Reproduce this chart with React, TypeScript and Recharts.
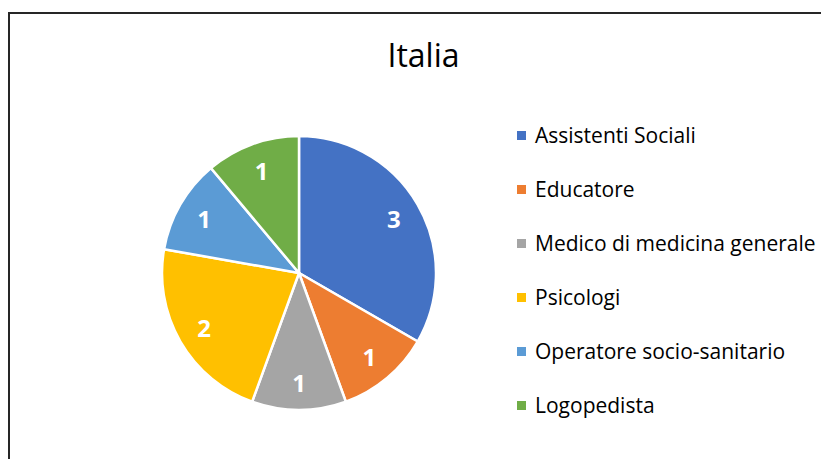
import React from "react";
import { PieChart, Pie, Cell, Legend } from "recharts";

const categories = [
  "Assistenti Sociali",
  "Educatore",
  "Medico di medicina generale",
  "Psicologi",
  "Operatore socio-sanitario",
  "Logopedista",
];
const values = [3, 1, 1, 2, 1, 1];
const colors = ["#4472C4", "#ED7D31", "#A5A5A5", "#FFC000", "#5B9BD5", "#70AD47"];
const title = "Italia";

const data = categories.map((name, i) => ({ name, value: values[i] }));

const RADIAN = Math.PI / 180;
const FONT = "'Open Sans', sans-serif";

const renderLabel = (props: any) => {
  const { cx, cy, midAngle, outerRadius, value } = props;
  const r = outerRadius * 0.8;
  const x = cx + r * Math.cos(-midAngle * RADIAN);
  const y = cy + r * Math.sin(-midAngle * RADIAN);
  return (
    <text
      x={x}
      y={y}
      fill="#fff"
      textAnchor="middle"
      dominantBaseline="central"
      fontFamily={FONT}
      fontWeight="bold"
      fontSize={24}
    >
      {value}
    </text>
  );
};

const renderLegend = () => (
  <div style={{ fontFamily: FONT, fontSize: 21, color: "#000" }}>
    {categories.map((c, i) => (
      <div key={c} style={{ height: 54, display: "flex", alignItems: "center" }}>
        <span
          style={{
            display: "inline-block",
            width: 9,
            height: 9,
            background: colors[i],
            marginRight: 9,
          }}
        />
        <span style={{ whiteSpace: "nowrap" }}>{c}</span>
      </div>
    ))}
  </div>
);

export default function App() {
  return (
    <div style={{ position: "relative", width: 821, height: 451, overflow: "hidden", background: "#fff" }}>
      <style>{"html,body{overflow:hidden;}"}</style>
      <div
        style={{
          position: "absolute",
          left: 0,
          top: 4,
          width: 900,
          height: 600,
          borderLeft: "2px solid #262626",
          borderTop: "2px solid #262626",
        }}
      />
      <div style={{ position: "absolute", left: 0, top: 0 }}>
        <PieChart width={821} height={451} margin={{ top: 0, right: 0, bottom: 0, left: 0 }}>
          <text
            x={415.5}
            y={59}
            textAnchor="middle"
            fontFamily={FONT}
            fontSize={32}
            fill="#000"
          >
            {title}
          </text>
          <Pie
            data={data}
            dataKey="value"
            nameKey="name"
            cx={291}
            cy={265}
            outerRadius={137}
            startAngle={90}
            endAngle={-270}
            stroke="#fff"
            strokeWidth={2.5}
            label={renderLabel}
            labelLine={false}
            isAnimationActive={false}
          >
            {data.map((d, i) => (
              <Cell key={d.name} fill={colors[i]} />
            ))}
          </Pie>
          <Legend
            content={renderLegend}
            wrapperStyle={{ position: "absolute", left: 509, top: 100, width: 320 }}
          />
        </PieChart>
      </div>
    </div>
  );
}
